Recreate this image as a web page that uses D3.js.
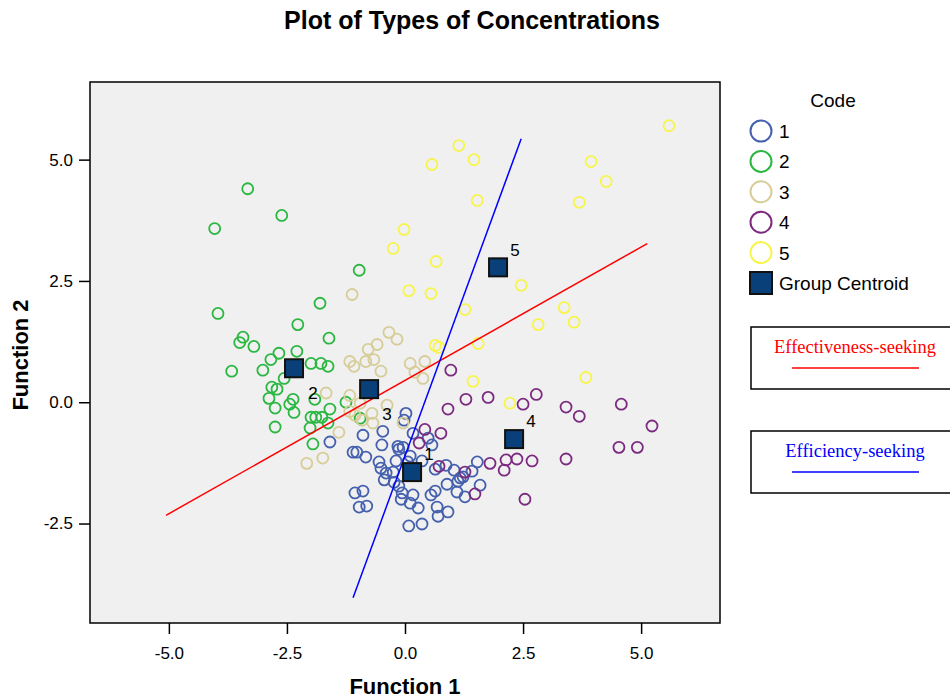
<!DOCTYPE html>
<html>
<head>
<meta charset="utf-8">
<script src="https://cdn.jsdelivr.net/npm/d3@7"></script>
<style>
  body { margin: 0; background: #fff; }
  svg text { font-family: Arial, "Liberation Sans", sans-serif; }
</style>
</head>
<body>
<svg id="chart" width="950" height="700"></svg>
<script>
// discriminant scores, [function 1, function 2], one array per group
const group1 = [
  [0.02,-0.23],[-0.02,-0.37],[-0.47,-0.60],[-0.89,-0.68],[-1.59,-0.82],[0.17,-0.64],
  [0.49,-0.74],[0.57,-0.88],[-0.49,-0.88],[-0.15,-0.91],[-0.13,-0.97],[-1.10,-1.03],
  [-1.02,-1.03],[-0.83,-1.13],[-0.55,-1.23],[-0.51,-1.36],[-0.19,-1.21],[0.11,-1.11],
  [0.06,-1.23],[0.36,-1.21],[-0.25,-1.44],[-0.44,-1.60],[-0.23,-1.65],[-0.13,-1.73],
  [-0.06,-1.87],[-0.08,-2.00],[0.17,-1.91],[0.11,-2.08],[0.28,-2.18],[-1.06,-1.87],
  [-0.89,-1.83],[-0.97,-2.16],[-0.81,-2.14],[0.08,-2.55],[0.36,-2.51],[0.55,-1.91],
  [0.64,-1.83],[0.68,-2.16],[0.70,-2.35],[0.91,-2.26],[0.64,-1.38],[0.87,-1.30],
  [1.04,-1.40],[0.89,-1.69],[1.12,-1.63],[1.17,-1.56],[1.23,-1.54],[1.10,-1.85],
  [1.27,-1.95],[1.59,-1.71],[1.53,-1.23],[1.42,-1.42],[-0.04,-0.93],[-0.40,-1.46]
];
const group2 = [
  [-3.33,4.40],[-2.61,3.85],[-4.03,3.58],[-0.97,2.72],[-1.80,2.04],[-3.96,1.83],
  [-2.27,1.60],[-3.43,1.34],[-3.50,1.23],[-3.20,1.15],[-1.61,1.32],[-2.29,1.05],
  [-2.67,1.01],[-2.84,0.88],[-3.67,0.64],[-3.01,0.66],[-1.99,0.80],[-1.78,0.80],
  [-1.63,0.74],[-2.56,0.49],[-2.82,0.31],[-2.71,0.27],[-2.88,0.08],[-2.37,0.06],
  [-2.44,-0.04],[-2.75,-0.12],[-2.35,-0.21],[-1.91,0.06],[-1.59,-0.14],[-1.99,-0.31],
  [-1.89,-0.31],[-1.76,-0.31],[-1.63,-0.43],[-2.75,-0.51],[-2.01,-0.53],[-1.95,-0.86],
  [-1.25,0.00],[-0.95,-0.33]
];
const group3 = [
  [-1.12,2.22],[-0.34,1.44],[-0.17,1.30],[-0.59,1.19],[-0.78,1.09],[-0.66,0.88],
  [-0.83,0.84],[-1.17,0.84],[-1.08,0.74],[-0.51,0.64],[0.11,0.80],[0.42,0.84],
  [0.21,0.62],[0.38,0.49],[-1.17,0.14],[-1.67,0.19],[-0.95,-0.02],[-1.17,-0.19],
  [-1.06,-0.27],[-0.91,-0.37],[-0.70,-0.23],[-0.68,-0.43],[-0.38,-0.06],[-0.04,-0.43],
  [-1.40,-0.62],[-1.74,-1.15],[-2.08,-1.26]
];
const group4 = [
  [0.97,0.66],[1.29,0.06],[1.76,0.10],[0.91,-0.14],[2.50,-0.04],[2.78,0.16],
  [3.41,-0.10],[3.69,-0.29],[4.58,-0.04],[5.23,-0.49],[4.53,-0.93],[4.92,-0.93],
  [3.41,-1.17],[2.69,-1.21],[2.37,-1.17],[2.14,-1.19],[2.10,-1.40],[1.80,-1.26],
  [2.54,-2.00],[0.42,-0.56],[0.30,-0.84],[0.76,-0.64],[0.72,-1.32],[1.27,-1.44],
  [1.48,-1.89]
];
const group5 = [
  [5.59,5.70],[1.14,5.29],[0.57,4.90],[1.46,5.00],[3.94,4.96],[4.26,4.55],
  [3.69,4.12],[1.53,4.16],[-0.02,3.56],[-0.25,3.17],[0.66,2.90],[0.08,2.30],
  [0.55,2.24],[2.46,2.41],[1.27,1.91],[3.37,1.95],[2.82,1.60],[3.58,1.65],
  [0.64,1.17],[0.72,1.13],[1.55,1.21],[1.44,0.43],[3.83,0.51],[2.22,-0.02]
];
const groupNames = ["1", "2", "3", "4", "5"];
const groupColors = ["#4560ad", "#2bb742", "#d6cd98", "#7c2a80", "#f7f54c"];
const centroids = [[0.15,-1.44],[-2.35,0.70],[-0.76,0.27],[2.31,-0.76],[1.97,2.78]];

// hand drawn direction lines
const effectivenessLine = [[-5.06,-2.33],[5.13,3.27]];
const efficiencyLine = [[-1.10,-4.03],[2.46,5.43]];

const xTicks = [-5, -2.5, 0, 2.5, 5];
const yTicks = [-2.5, 0, 2.5, 5];

const svg = d3.select("#chart");
const plot = {left: 90, right: 720, top: 82, bottom: 623};

const x = d3.scaleLinear().domain([-6.67, 6.67]).range([plot.left, plot.right]);
const y = d3.scaleLinear().domain([-4.55, 6.6]).range([plot.bottom, plot.top]);

svg.append("text")
  .attr("x", 472).attr("y", 29)
  .attr("text-anchor", "middle")
  .style("font-size", "25px").style("font-weight", "bold")
  .text("Plot of Types of Concentrations");

svg.append("rect")
  .attr("x", plot.left).attr("y", plot.top)
  .attr("width", plot.right - plot.left).attr("height", plot.bottom - plot.top)
  .attr("fill", "#f0f0f0");

const fmt = d => d.toFixed(1);

const xAxis = svg.append("g")
  .attr("font-size", 17)
  .attr("transform", `translate(0,${plot.bottom})`)
  .call(d3.axisBottom(x).tickValues(xTicks).tickFormat(fmt).tickSize(11).tickPadding(13));
const yAxis = svg.append("g")
  .attr("font-size", 17)
  .attr("transform", `translate(${plot.left},0)`)
  .call(d3.axisLeft(y).tickValues(yTicks).tickFormat(fmt).tickSize(11).tickPadding(6));
[xAxis, yAxis].forEach(a => {
  a.attr("font-size", 17).attr("font-family", "Arial, 'Liberation Sans', sans-serif");
  a.select(".domain").remove();
  a.selectAll(".tick line").attr("stroke", "#000").attr("stroke-width", 1.5);
  a.selectAll(".tick text").attr("fill", "#000");
});

svg.append("text")
  .attr("x", 405).attr("y", 694)
  .attr("text-anchor", "middle")
  .style("font-size", "22px").style("font-weight", "bold")
  .text("Function 1");
svg.append("text")
  .attr("transform", "translate(28,355) rotate(-90)")
  .attr("text-anchor", "middle")
  .style("font-size", "22px").style("font-weight", "bold")
  .text("Function 2");

// points
const groups = [group1, group2, group3, group4, group5];
const pointLayer = svg.append("g");
groups.forEach((pts, i) => {
  pointLayer.selectAll(null)
    .data(pts)
    .enter().append("circle")
    .attr("cx", d => x(d[0]))
    .attr("cy", d => y(d[1]))
    .attr("r", 5.5)
    .attr("fill", "none")
    .attr("stroke", groupColors[i])
    .attr("stroke-width", 1.8);
});

const line = d3.line().x(d => x(d[0])).y(d => y(d[1]));
svg.append("path").attr("d", line(effectivenessLine))
  .attr("stroke", "#ff0000").attr("stroke-width", 1.5).attr("fill", "none");
svg.append("path").attr("d", line(efficiencyLine))
  .attr("stroke", "#0000ff").attr("stroke-width", 1.5).attr("fill", "none");

// centroids
svg.selectAll(".centroid")
  .data(centroids)
  .enter().append("rect")
  .attr("class", "centroid")
  .attr("x", d => x(d[0]) - 9)
  .attr("y", d => y(d[1]) - 9)
  .attr("width", 18).attr("height", 18)
  .attr("fill", "#0a4079")
  .attr("stroke", "#111").attr("stroke-width", 2);

const labelOffsets = [[17,-12], [19,31], [18,31], [17,-12], [17,-11]];
svg.selectAll(".clabel")
  .data(centroids)
  .enter().append("text")
  .attr("class", "clabel")
  .attr("x", (d, i) => x(d[0]) + labelOffsets[i][0])
  .attr("y", (d, i) => y(d[1]) + labelOffsets[i][1])
  .attr("text-anchor", "middle")
  .style("font-size", "17px")
  .text((d, i) => groupNames[i]);

svg.append("rect")
  .attr("x", plot.left).attr("y", plot.top)
  .attr("width", plot.right - plot.left).attr("height", plot.bottom - plot.top)
  .attr("fill", "none").attr("stroke", "#000").attr("stroke-width", 1.5);

// legend
const legend = svg.append("g");
legend.append("text")
  .attr("x", 833).attr("y", 107)
  .attr("text-anchor", "middle")
  .style("font-size", "19px")
  .text("Code");
const legendY = d3.scalePoint().domain([...groupNames, "Group Centroid"]).range([131, 283]);
groupNames.forEach((g, i) => {
  legend.append("circle")
    .attr("cx", 761).attr("cy", legendY(g)).attr("r", 10.5)
    .attr("fill", "none").attr("stroke", groupColors[i]).attr("stroke-width", 2);
  legend.append("text")
    .attr("x", 779).attr("y", legendY(g) + 7)
    .style("font-size", "19px")
    .text(g);
});
legend.append("rect")
  .attr("x", 750).attr("y", legendY("Group Centroid") - 11)
  .attr("width", 22).attr("height", 22)
  .attr("fill", "#0a4079").attr("stroke", "#111").attr("stroke-width", 2);
legend.append("text")
  .attr("x", 779).attr("y", legendY("Group Centroid") + 7)
  .style("font-size", "19px")
  .text("Group Centroid");

// annotation boxes
const notes = [
  {label: "Effectiveness-seeking", color: "#ff0000", top: 327},
  {label: "Efficiency-seeking", color: "#0000ff", top: 431}
];
notes.forEach(n => {
  const g = svg.append("g");
  g.append("rect")
    .attr("x", 751).attr("y", n.top)
    .attr("width", 220).attr("height", 62)
    .attr("fill", "#fff").attr("stroke", "#000").attr("stroke-width", 1.5);
  g.append("text")
    .attr("x", 855).attr("y", n.top + 26)
    .attr("text-anchor", "middle")
    .style("font-family", "'Liberation Serif', 'Times New Roman', serif")
    .style("font-size", "18.5px")
    .attr("fill", n.color)
    .text(n.label);
  g.append("line")
    .attr("x1", 792).attr("x2", 919)
    .attr("y1", n.top + 41).attr("y2", n.top + 41)
    .attr("stroke", n.color).attr("stroke-width", 1.5);
});
</script>
</body>
</html>
